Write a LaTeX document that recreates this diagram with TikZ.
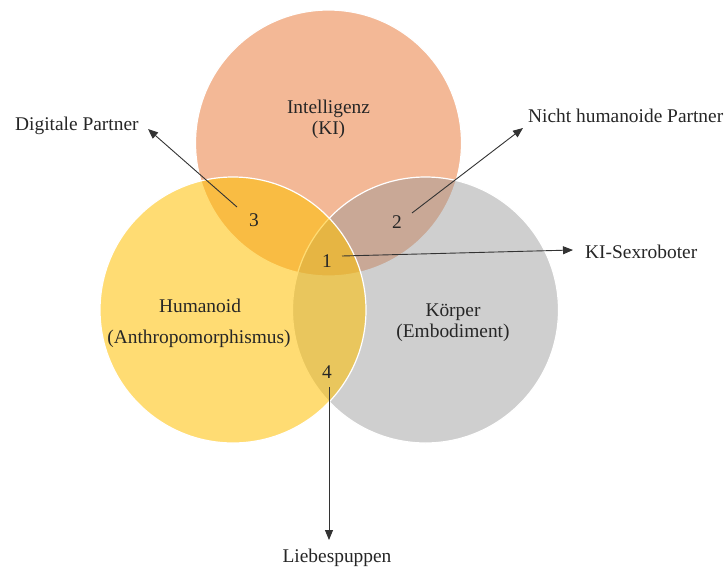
\documentclass[tikz,border=0pt]{standalone}
\usepackage{fontspec}
\setmainfont{Liberation Serif}
\usetikzlibrary{arrows.meta}
\definecolor{kiC}{RGB}{243,184,150}
\definecolor{grayC}{RGB}{150,150,150}
\definecolor{yelC}{RGB}{255,192,0}
\begin{document}
\begin{tikzpicture}[x=1pt,y=-1pt,
  lbl/.style={font=\fontsize{19.4}{21}\selectfont, text=black!85, inner sep=0pt, align=center},
  num/.style={font=\fontsize{19.4}{21}\selectfont, text=black!85, inner sep=0pt},
  arr/.style={draw=black!80, line width=0.9pt, -{Triangle[length=10pt,width=8pt]}},
  venn/.style={circle, draw=white, line width=1.2pt, minimum size=266pt, inner sep=0pt}]
\useasboundingbox (0,0) rectangle (726,570);
\fill[white] (0,0) rectangle (726,570);
% circles
\node[venn, fill=kiC] (ki) at (328.5,143) {};
\node[venn, fill=grayC, fill opacity=0.45] (koerper) at (425.5,310) {};
\node[venn, fill=yelC, fill opacity=0.55] (human) at (233,310) {};
% circle labels
\node[lbl] (tki) at (328.5,119) {Intelligenz\\(KI)};
\node[lbl] (thum1) at (200,306) {Humanoid};
\node[lbl] (thum2) at (199,339) {(Anthropomorphismus)};
\node[lbl] (tkoe) at (453,323) {Körper\\(Embodiment)};
% numbers
\node[num] (n1) at (327,261) {1};
\node[num] (n2) at (397,222) {2};
\node[num] (n3) at (254,220) {3};
\node[num] (n4) at (327,372) {4};
% outer labels
\node[lbl, anchor=west] (dp) at (15,126) {Digitale Partner};
\node[lbl, anchor=west] (nhp) at (528,116) {Nicht humanoide Partner};
\node[lbl, anchor=west] (ksr) at (585,252) {KI-Sexroboter};
\node[lbl] (lp) at (337,558) {Liebespuppen};
% connector ends
\coordinate (s3) at (237,207);
\coordinate (e3) at (148,129);
\coordinate (s2) at (412,213);
\coordinate (e2) at (523,128);
\coordinate (s1) at (342,256);
\coordinate (e1) at (573,250);
\coordinate (s4) at (329,387);
\coordinate (e4) at (329,540);
\draw[arr] (s3) -- (e3);
\draw[arr] (s2) -- (e2);
\draw[arr] (s1) -- (e1);
\draw[arr] (s4) -- (e4);
\end{tikzpicture}
\end{document}
